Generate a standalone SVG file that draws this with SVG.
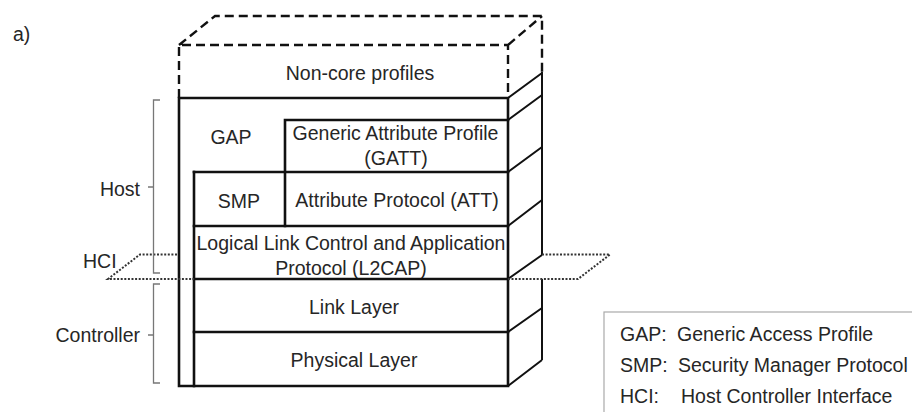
<svg xmlns="http://www.w3.org/2000/svg" width="912" height="412" viewBox="0 0 912 412">
  <style>
    text { font-family: "Liberation Sans", Arial, sans-serif; font-size: 19.5px; fill: #262626; }
    .c { text-anchor: middle; }
    .e { text-anchor: end; }
    .solid { fill: none; stroke: #111; stroke-width: 2.6; stroke-linecap: square; }
    .thin { fill: none; stroke: #111; stroke-width: 2; }
    .dash { fill: none; stroke: #111; stroke-width: 2.4; stroke-dasharray: 9 5; }
    .dot { fill: none; stroke: #333; stroke-width: 2; stroke-dasharray: 2 1.6; }
    .brace { fill: none; stroke: #777; stroke-width: 1.3; }
    .legend { fill: #fff; stroke: #aaa; stroke-width: 1.2; }
  </style>

  <rect width="912" height="412" fill="#fff"/>

  <text x="13" y="41">a)</text>

  <!-- dashed top block: non-core profiles -->
  <g id="noncore">
    <path class="dash" d="M179,98 V45 H508 V98 M179,45 L215,16 H542 V72 M508,45 L542,16"/>
    <text class="c" x="360" y="80">Non-core profiles</text>
  </g>

  <!-- side faces of the stack -->
  <g id="side">
    <path class="thin" d="M542,72 V255 M542,279 V360"/>
    <path class="thin" d="M508,98 L542,73 M508,120 L542,95 M508,172 L542,147 M508,226 L542,200 M508,279 L542,255 M508,332 L542,308 M508,386 L542,360"/>
  </g>

  <!-- stack outline -->
  <g id="stack">
    <path class="solid" d="M179,98 H508 V386 H179 Z"/>
    <path class="solid" d="M194,172 V386"/>
  </g>

  <g id="gap">
    <text class="c" x="231" y="143.5">GAP</text>
  </g>

  <g id="gatt">
    <path class="solid" d="M285,120 H508 M285,120 V226"/>
    <text class="c" x="395.5" y="139.5">Generic Attribute Profile</text>
    <text class="c" x="396" y="165">(GATT)</text>
  </g>

  <g id="smp">
    <path class="solid" d="M194,172 H508"/>
    <text class="c" x="239" y="207.5">SMP</text>
  </g>

  <g id="att">
    <text class="c" x="397" y="207">Attribute Protocol (ATT)</text>
  </g>

  <g id="l2cap">
    <path class="solid" d="M194,226 H508"/>
    <text class="c" x="351" y="249.5">Logical Link Control and Application</text>
    <text class="c" x="351" y="275">Protocol (L2CAP)</text>
  </g>

  <g id="linklayer">
    <path class="solid" d="M194,279 H508"/>
    <text class="c" x="354" y="313.5">Link Layer</text>
  </g>

  <g id="physical">
    <path class="solid" d="M194,332 H508"/>
    <text class="c" x="354" y="366.5">Physical Layer</text>
  </g>

  <!-- HCI plane cutting the stack -->
  <g id="hci">
    <path class="dot" d="M177,254.5 H140 L108,279 H194"/>
    <path class="dot" d="M542,254.5 H610 L578,279 H508"/>
    <text x="83" y="268">HCI</text>
  </g>

  <!-- brackets -->
  <g id="host">
    <path class="brace" d="M160,100 H153.5 V273 H160 M153.5,187 H148"/>
    <text class="e" x="140" y="196">Host</text>
  </g>
  <g id="controller">
    <path class="brace" d="M160,284 H153.5 V383 H160 M153.5,335 H148"/>
    <text class="e" x="140" y="342">Controller</text>
  </g>

  <!-- abbreviation legend -->
  <g id="legend">
    <rect class="legend" x="604" y="312" width="320" height="110"/>
    <text x="620" y="341">GAP:</text>
    <text x="677" y="341">Generic Access Profile</text>
    <text x="620" y="372">SMP:</text>
    <text x="678" y="372">Security Manager Protocol</text>
    <text x="620" y="403">HCI:</text>
    <text x="681" y="403">Host Controller Interface</text>
  </g>
</svg>
